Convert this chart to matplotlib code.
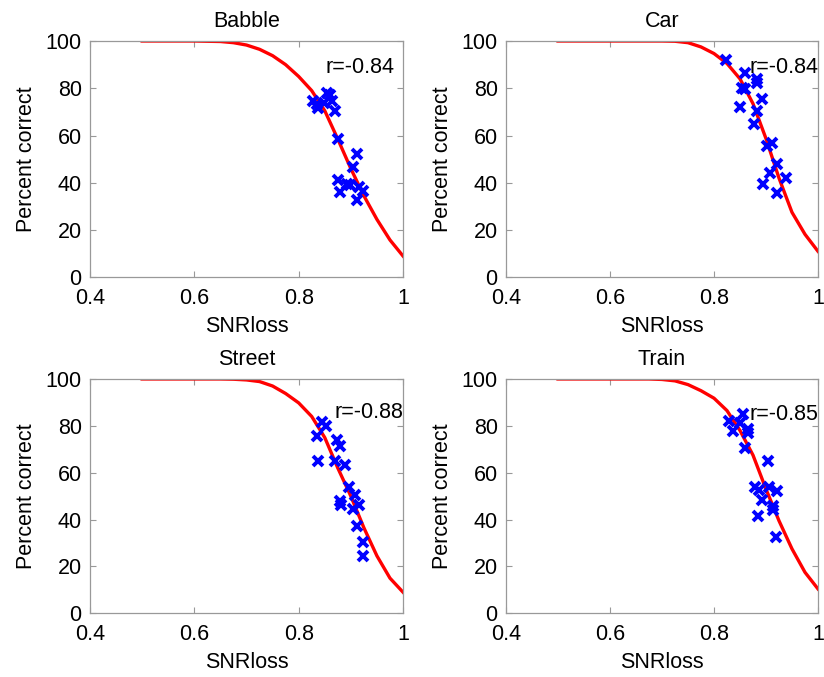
"""
SNRloss vs. percent correct for four noise types, with fitted curves.
"""

import matplotlib
matplotlib.use("Agg")
import matplotlib.pyplot as plt

plt.rcParams["font.family"] = ["Liberation Sans", "DejaVu Sans"]

titles = ["Babble", "Car", "Street", "Train"]
r_labels = ["r=-0.84", "r=-0.84", "r=-0.88", "r=-0.85"]

babble_x = [0.828, 0.835, 0.838, 0.854, 0.861, 0.863, 0.849, 0.870, 0.876,
            0.911, 0.905, 0.876, 0.879, 0.892, 0.898, 0.916, 0.924, 0.911]
babble_y = [74.6, 73.2, 71.8, 78.1, 77.0, 74.6, 73.9, 70.4, 58.7,
            52.0, 46.8, 41.2, 36.2, 39.4, 38.9, 38.3, 36.4, 32.7]

car_x = [0.824, 0.860, 0.853, 0.859, 0.882, 0.882, 0.892, 0.850, 0.882,
         0.876, 0.901, 0.911, 0.922, 0.908, 0.938, 0.895, 0.922]
car_y = [91.8, 86.3, 80.2, 79.8, 83.8, 82.1, 75.6, 72.1, 70.4,
         65.0, 55.6, 57.0, 47.8, 44.3, 42.2, 39.4, 35.8]

street_x = [0.844, 0.852, 0.835, 0.838, 0.873, 0.879, 0.870, 0.889, 0.897,
            0.908, 0.879, 0.882, 0.916, 0.905, 0.911, 0.924, 0.924]
street_y = [81.5, 80.1, 75.8, 64.9, 74.0, 71.5, 64.9, 63.4, 54.0,
            50.6, 48.1, 46.2, 46.2, 44.5, 37.4, 30.3, 24.6]

train_x = [0.855, 0.828, 0.850, 0.837, 0.865, 0.865, 0.860, 0.903, 0.878,
           0.887, 0.906, 0.922, 0.893, 0.913, 0.913, 0.884, 0.919]
train_y = [85.1, 82.2, 81.1, 77.7, 78.7, 76.8, 70.6, 64.9, 54.0,
           52.6, 53.8, 52.1, 48.4, 45.9, 44.2, 41.4, 32.7]

# Fitted curves, sampled off the figure
fit_x = [0.50, 0.60, 0.65, 0.675, 0.70, 0.725, 0.75, 0.775, 0.80,
         0.825, 0.85, 0.875, 0.90, 0.925, 0.95, 0.975, 1.00]
babble_fit = [100, 100, 99.8, 99.3, 98.3, 96.5, 93.8, 90.0, 85.0,
              79.0, 70.5, 58.5, 46.0, 34.5, 24.5, 15.8, 9.0]
car_fit = [100, 100, 100, 100, 100, 99.9, 99.3, 97.5, 94.7,
           90.5, 84.0, 73.5, 58.7, 42.0, 27.5, 18.2, 11.0]
street_fit = [100, 100, 100, 99.9, 99.6, 98.9, 97.0, 93.8, 89.8,
              84.0, 75.0, 62.0, 50.0, 36.5, 24.5, 15.0, 9.0]
train_fit = [100, 100, 100, 100, 99.8, 99.2, 97.6, 95.0, 91.8,
             86.5, 78.0, 67.5, 53.0, 39.5, 27.5, 17.5, 10.4]

points = [(babble_x, babble_y), (car_x, car_y), (street_x, street_y), (train_x, train_y)]
fits = [babble_fit, car_fit, street_fit, train_fit]
r_pos = [(0.852, 89.0), (0.868, 88.6), (0.869, 85.8), (0.869, 84.7)]

boxes = [
    [0.1092, 0.5904, 0.3799, 0.3490],
    [0.6141, 0.5904, 0.3786, 0.3490],
    [0.1092, 0.0941, 0.3799, 0.3461],
    [0.6141, 0.0941, 0.3786, 0.3461],
]

fig = plt.figure(figsize=(8.24, 6.77), dpi=100)

for i in range(4):
    ax = fig.add_axes(boxes[i])
    ax.plot(fit_x, fits[i], color="red", linewidth=2.4, zorder=2,
            solid_joinstyle="round")
    px, py = points[i]
    ax.plot(px, py, linestyle="none", marker="x", markersize=7,
            markeredgewidth=2.8, color="blue", zorder=3)
    ax.text(r_pos[i][0], r_pos[i][1], r_labels[i], ha="left", va="center",
            fontsize=15.5)

    ax.set_xlim(0.4, 1.0)
    ax.set_ylim(0, 100)
    ax.set_xticks([0.4, 0.6, 0.8, 1.0])
    ax.set_xticklabels(["0.4", "0.6", "0.8", "1"])
    ax.set_yticks([0, 20, 40, 60, 80, 100])
    ax.tick_params(direction="in", top=True, right=True, length=4,
                   color="#999999", labelsize=15.5)
    ax.tick_params(axis="x", pad=8)
    ax.tick_params(axis="y", pad=6)
    for s in ax.spines.values():
        s.set_color("#999999")
        s.set_linewidth(0.9)

    ax.set_title(titles[i], fontsize=15.5, pad=10)
    ax.set_xlabel("SNRloss", fontsize=15.5, labelpad=5)
    ax.set_ylabel("Percent correct", fontsize=15.5, labelpad=6)

fig.savefig("out.png", dpi=100)
